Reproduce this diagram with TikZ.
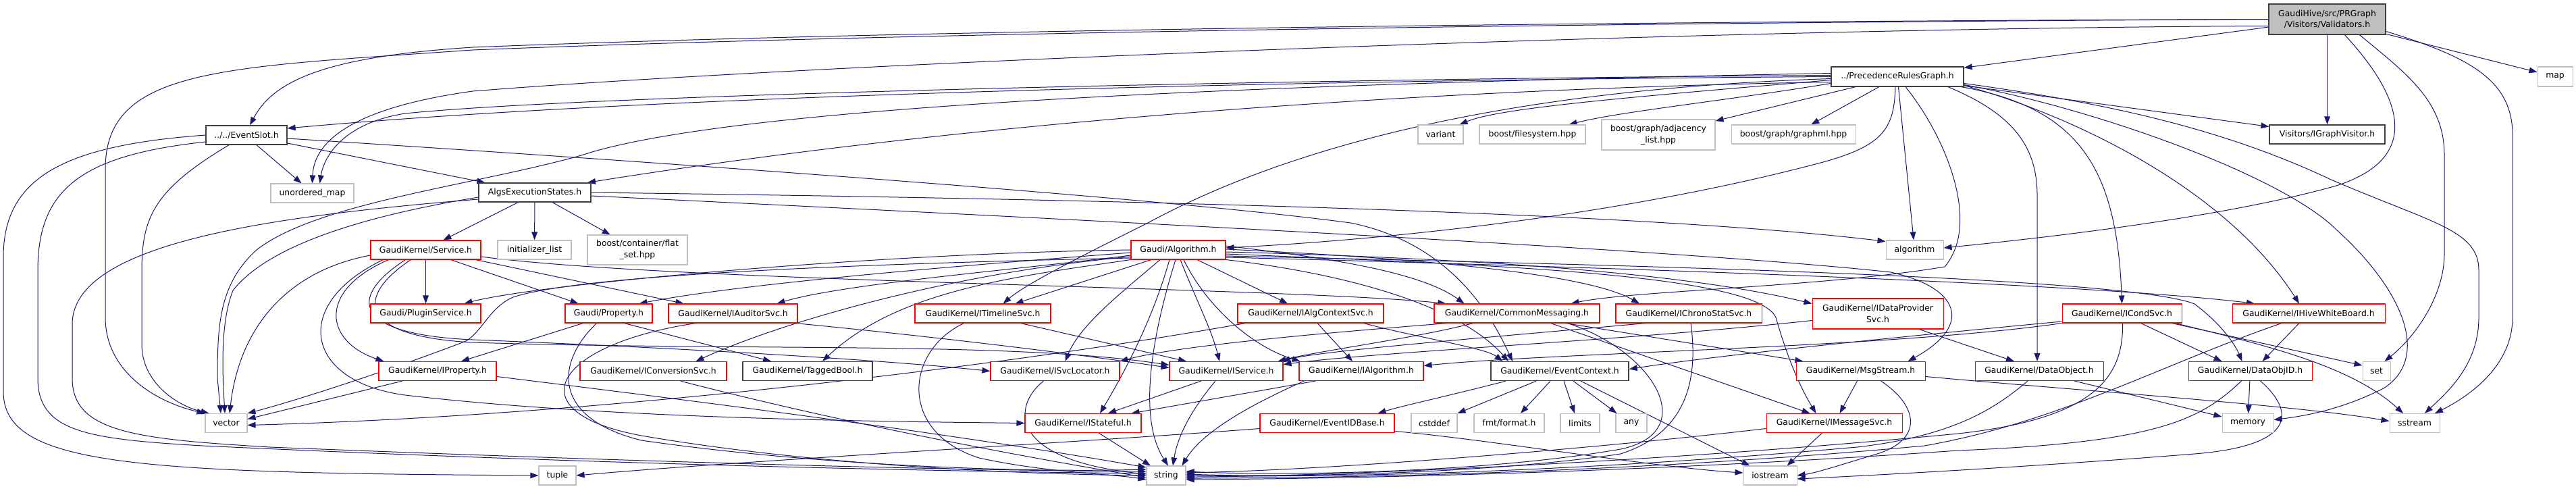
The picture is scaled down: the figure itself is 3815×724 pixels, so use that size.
\documentclass[tikz,border=0pt]{standalone}
\usepackage{fontspec}
\setmainfont{DejaVu Sans}
\usetikzlibrary{arrows.meta,calc}
\definecolor{edgeblue}{HTML}{191970}
\definecolor{boxgray}{HTML}{BFBFBF}
\definecolor{boxdark}{HTML}{404040}
\pgfdeclarelayer{bgfill}
\pgfdeclarelayer{edges}
\pgfsetlayers{bgfill,edges,main}
\tikzset{
  nbase/.style={draw, fill=white, line width=0.8pt, inner sep=0pt, align=center, font=\fontsize{9.3}{12.5}\selectfont, text=black},
  rd/.style={nbase, draw=red},
  bk/.style={nbase, draw=boxdark, line width=1pt},
  gy/.style={nbase, draw=boxgray},
  topn/.style={nbase, draw=boxdark, fill=boxgray, line width=1pt},
  e/.style={draw=edgeblue, line width=0.75pt, -{Triangle[length=9pt,width=6.5pt]}},
}
\newcommand{\mknode}[7]{\node[#6, minimum width=#4*0.75pt, minimum height=#5*0.75pt] (#1) at (#2,#3) {#7};}
\begin{document}
\begin{tikzpicture}[x=0.75pt,y=-0.75pt]
\begin{pgfonlayer}{bgfill}
\fill[white] (0,0) rectangle (3815,724);
\end{pgfonlayer}
\useasboundingbox (0,0) rectangle (3815,724);
% ---------------- nodes ----------------
\mknode{V}{3446.5}{28.5}{173}{45}{topn}{GaudiHive/src/PRGraph\\/Visitors/Validators.h}
\mknode{P}{2810}{113.5}{196}{29}{bk}{../PrecedenceRulesGraph.h}
\mknode{map}{3784}{113.5}{52}{29}{gy}{map}
\mknode{ES}{365}{200}{120}{28}{bk}{../../EventSlot.h}
\mknode{variant}{2133.5}{199}{67}{28}{gy}{variant}
\mknode{fs}{2269.5}{199}{157}{28}{gy}{boost/filesystem.hpp}
\mknode{adj}{2456}{199.5}{168}{45}{gy}{boost/graph/adjacency\\\_list.hpp}
\mknode{gml}{2656}{199}{184}{28}{gy}{boost/graph/graphml.hpp}
\mknode{IGV}{3446.5}{199}{171}{28}{bk}{Visitors/IGraphVisitor.h}
\mknode{AES}{792}{285}{166}{28}{bk}{AlgsExecutionStates.h}
\mknode{umap}{462.5}{286}{123}{28}{gy}{unordered\_map}
\mknode{Svc}{630.5}{370}{163}{28}{rd}{GaudiKernel/Service.h}
\mknode{ilist}{791.5}{370}{109}{28}{gy}{initializer\_list}
\mknode{fset}{944}{370}{148}{44}{gy}{boost/container/flat\\\_set.hpp}
\mknode{Algo}{1745}{370}{140}{28}{rd}{Gaudi/Algorithm.h}
\mknode{algorithm}{2835.5}{370}{85}{28}{gy}{algorithm}
\mknode{Plugin}{630.5}{464}{163}{28}{rd}{Gaudi/PluginService.h}
\mknode{Prop}{901.5}{464}{129}{28}{rd}{Gaudi/Property.h}
\mknode{IAud}{1085.5}{464}{191}{28}{rd}{GaudiKernel/IAuditorSvc.h}
\mknode{ITL}{1455.5}{464}{201}{28}{rd}{GaudiKernel/ITimelineSvc.h}
\mknode{IACS}{1941}{464}{216}{28}{rd}{GaudiKernel/IAlgContextSvc.h}
\mknode{CM}{2246.5}{464}{245}{28}{rd}{GaudiKernel/CommonMessaging.h}
\mknode{ICSS}{2501}{464}{216}{28}{rd}{GaudiKernel/IChronoStatSvc.h}
\mknode{IDPS}{2781}{464.5}{194}{45}{rd}{GaudiKernel/IDataProvider\\Svc.h}
\mknode{ICond}{3142.5}{464}{177}{28}{rd}{GaudiKernel/ICondSvc.h}
\mknode{IHWB}{3419}{464}{226}{28}{rd}{GaudiKernel/IHiveWhiteBoard.h}
\mknode{IProp}{648}{549.5}{174}{28}{rd}{GaudiKernel/IProperty.h}
\mknode{IConv}{967.5}{549.5}{217}{28}{rd}{GaudiKernel/IConversionSvc.h}
\mknode{TB}{1196}{549.5}{192}{28}{bk}{GaudiKernel/TaggedBool.h}
\mknode{ISL}{1562.5}{549.5}{191}{28}{rd}{GaudiKernel/ISvcLocator.h}
\mknode{ISvc}{1816}{549.5}{168}{28}{rd}{GaudiKernel/IService.h}
\mknode{IAlg}{2016}{549.5}{184}{28}{rd}{GaudiKernel/IAlgorithm.h}
\mknode{EC}{2310}{549.5}{204}{28}{bk}{GaudiKernel/EventContext.h}
\mknode{MS}{2755.5}{549.5}{191}{28}{rd}{GaudiKernel/MsgStream.h}
\mknode{DO}{3020}{549.5}{190}{28}{rd}{GaudiKernel/DataObject.h}
\mknode{DOID}{3332.5}{549.5}{183}{28}{rd}{GaudiKernel/DataObjID.h}
\mknode{set}{3519.5}{549.5}{41}{28}{gy}{set}
\mknode{vec}{335}{626.5}{62}{28}{gy}{vector}
\mknode{IStf}{1604}{626.5}{172}{28}{rd}{GaudiKernel/IStateful.h}
\mknode{EIB}{1965.5}{626.5}{199}{28}{rd}{GaudiKernel/EventIDBase.h}
\mknode{cstddef}{2124}{626.5}{68}{28}{gy}{cstddef}
\mknode{fmt}{2235}{626.5}{104}{28}{gy}{fmt/format.h}
\mknode{limits}{2340}{626.5}{58}{28}{gy}{limits}
\mknode{any}{2416}{626.5}{46}{28}{gy}{any}
\mknode{IMS}{2716.5}{626.5}{201}{28}{rd}{GaudiKernel/IMessageSvc.h}
\mknode{memory}{3329}{626.5}{76}{28}{gy}{memory}
\mknode{sstream}{3576}{626.5}{74}{28}{gy}{sstream}
\mknode{tuple}{825.5}{704}{55}{28}{gy}{tuple}
\mknode{string}{1727}{704}{58}{28}{gy}{string}
\mknode{iostream}{2621.5}{704}{79}{28}{gy}{iostream}
% ---------------- edges ----------------
\begin{pgfonlayer}{edges}
% Validators
\draw[e] (V) -- (P);
\draw[e] (V.west) .. controls (2300,32) and (1300,46) .. (700,70) .. controls (480,84) and (405,120) .. ($(ES.north)+(5,0)$);
\draw[e] (V.west) .. controls (2300,34) and (1300,50) .. (700,74) .. controls (330,100) and (156,100) .. (156,250) -- (156,470) .. controls (156,550) and (230,595) .. (vec.north west);
\draw[e] ($(V.west)+(0,10)$) .. controls (2500,42) and (1200,95) .. (700,135) .. controls (520,160) and (465,210) .. (umap.north);
\draw[e] (V) -- (IGV);
\draw[e] (V) -- (map);
\draw[e] ($(V.south)+(48,0)$) .. controls (3565,110) and (3620,150) .. (3620,230) -- (3620,375) .. controls (3620,440) and (3575,500) .. ($(set.north)+(12,0)$);
\draw[e] ($(V.east)+(0,18)$) .. controls (3660,85) and (3721,120) .. (3721,200) -- (3721,470) .. controls (3721,540) and (3660,585) .. ($(sstream.north)+(30,0)$);
\draw[e] ($(V.south)+(26,0)$) .. controls (3545,130) and (3600,230) .. (3460,275) .. controls (3300,320) and (3050,350) .. ($(algorithm.east)+(0,-3)$);
% PrecedenceRulesGraph
\draw[e] ($(P.west)+(0,5)$) .. controls (2400,145) and (2220,160) .. ($(variant.north)+(28,0)$);
\draw[e] ($(P.west)+(0,10)$) .. controls (2550,150) and (2400,165) .. ($(fs.north)+(54,0)$);
\draw[e] (P) -- (adj);
\draw[e] (P) -- (gml);
\draw[e] (P) -- (IGV);
\draw[e] (P) -- (algorithm);
\draw[e] ($(P.east)+(0,10)$) .. controls (3100,150) and (3280,185) .. (3450,265) .. controls (3600,330) and (3671,340) .. (3671,400) -- (3671,470) .. controls (3671,540) and (3625,580) .. ($(sstream.north)+(15,0)$);
\draw[e] ($(P.east)+(0,12)$) .. controls (3100,160) and (3380,260) .. (3460,340) .. controls (3560,430) and (3600,530) .. (3530,575) .. controls (3470,605) and (3420,615) .. ($(memory.east)+(0,-5)$);
\draw[e] ($(P.east)+(0,13)$) .. controls (3050,165) and (3290,270) .. ($(IHWB.north)+(-14,0)$);
\draw[e] ($(P.south)+(95,0)$) .. controls (3080,160) and (3135,250) .. (ICond.north);
\draw[e] ($(P.south)+(75,0)$) .. controls (2985,170) and (3017,220) .. (3017,290) -- ($(DO.north)+(-3,0)$);
\draw[e] ($(P.south)+(-3,0)$) .. controls (2805,190) and (2790,215) .. (2700,240) .. controls (2400,320) and (2050,355) .. ($(Algo.east)+(0,-3)$);
\draw[e] ($(P.west)+(0,3)$) .. controls (2300,130) and (1950,195) .. (1700,330) .. controls (1600,380) and (1520,420) .. ($(ITL.north)+(30,0)$);
\draw[e] ($(P.west)+(0,8)$) .. controls (2200,130) and (1500,170) .. ($(AES.north)+(78,0)$);
\draw[e] (P.west) .. controls (2000,118) and (1000,138) .. ($(ES.east)+(0,-10)$);
\draw[e] ($(P.west)+(0,-2)$) .. controls (2000,116) and (900,138) .. (600,168) .. controls (510,182) and (480,230) .. ($(umap.north)+(11,0)$);
\draw[e] ($(P.west)+(0,-5)$) .. controls (2000,122) and (1100,150) .. (861,230) .. controls (700,275) and (470,300) .. (380,370) .. controls (325,420) and (322,480) .. (322,560) -- ($(vec.north)+(-8,0)$);
\draw[e] ($(P.south)+(12,0)$) .. controls (2880,200) and (2935,330) .. (2880,395) .. controls (2700,425) and (2420,430) .. ($(CM.north)+(80,0)$);
% EventSlot
\draw[e] ($(ES.east)+(0,12)$) -- ($(AES.north west)+(10,0)$);
\draw[e] ($(ES.south)+(15,0)$) -- ($(umap.north)+(-16,0)$);
\draw[e] ($(ES.south)+(-26,0)$) .. controls (230,280) and (210,320) .. (210,400) -- (210,510) .. controls (210,565) and (260,600) .. ($(vec.north west)+(6,0)$);
\draw[e] ($(ES.west)+(0,10)$) .. controls (120,230) and (56,280) .. (56,400) -- (56,560) .. controls (56,640) and (130,650) .. (300,660) .. controls (900,688) and (1400,698) .. ($(string.west)+(0,-3)$);
\draw[e] (ES.west) .. controls (100,215) and (5,260) .. (5,380) -- (5,580) .. controls (5,690) and (200,700) .. (tuple.west);
\draw[e] ($(ES.east)+(0,5)$) .. controls (900,235) and (1700,290) .. (2000,330) .. controls (2150,360) and (2210,470) .. ($(EC.north)+(-70,0)$);
% AlgsExecutionStates
\draw[e] ($(AES.south)+(-25,0)$) -- ($(Svc.north)+(26,0)$);
\draw[e] (AES) -- (ilist);
\draw[e] (AES) -- (fset);
\draw[e] ($(AES.west)+(0,7)$) .. controls (550,318) and (400,360) .. (345,430) .. controls (325,480) and (330,560) .. ($(vec.north)+(-2,0)$);
\draw[e] ($(AES.west)+(0,10)$) .. controls (400,320) and (107,360) .. (107,480) -- (107,560) .. controls (107,640) and (200,650) .. (400,662) .. controls (1000,686) and (1450,697) .. ($(string.west)+(0,-6)$);
\draw[e] (AES.east) .. controls (1500,293) and (2400,310) .. ($(algorithm.north west)+(0,2)$);
\draw[e] ($(AES.east)+(0,5)$) .. controls (1600,325) and (2500,370) .. (2800,403) .. controls (2900,425) and (2925,480) .. ($(MS.north)+(70,0)$);
% Service
\draw[e] (Svc) -- (Plugin);
\draw[e] ($(Svc.south)+(37,0)$) -- ($(Prop.north)+(-45,0)$);
\draw[e] ($(Svc.south east)+(-8,0)$) -- ($(IAud.north)+(-73,0)$);
\draw[e] ($(Svc.south)+(-55,0)$) .. controls (470,430) and (480,505) .. ($(IProp.north west)+(8,0)$);
\draw[e] ($(Svc.west)+(0,8)$) .. controls (430,400) and (355,480) .. ($(vec.north)+(5,0)$);
\draw[e] ($(Svc.south)+(-63,0)$) .. controls (430,450) and (450,565) .. (600,585) .. controls (900,620) and (1300,624) .. (IStf.west);
\draw[e] ($(Svc.south)+(-30,0)$) .. controls (515,440) and (520,495) .. (700,503) .. controls (1000,515) and (1300,532) .. (ISL.west);
\draw[e] ($(Svc.south)+(-22,0)$) .. controls (525,440) and (530,498) .. (700,507) .. controls (1100,520) and (1500,505) .. ($(ISvc.west)+(0,-9)$);
\draw[e] ($(Svc.east)+(0,10)$) .. controls (1000,418) and (1900,425) .. ($(CM.north)+(-105,0)$);
% Gaudi/Algorithm.h
\draw[e] ($(Algo.south)+(-40,0)$) -- ($(ITL.north)+(48,0)$);
\draw[e] ($(Algo.south)+(-27,0)$) .. controls (1665,430) and (1600,480) .. ($(ISL.north)+(15,0)$);
\draw[e] ($(Algo.south)+(-13,0)$) .. controls (1705,480) and (1660,560) .. ($(IStf.north)+(25,0)$);
\draw[e] ($(Algo.south)+(-4,0)$) .. controls (1705,500) and (1685,620) .. ($(string.north)+(3,0)$);
\draw[e] ($(Algo.south)+(3,0)$) .. controls (1770,440) and (1795,490) .. ($(ISvc.north)+(-10,0)$);
\draw[e] ($(Algo.south)+(8,0)$) .. controls (1790,460) and (1860,515) .. ($(IAlg.north west)+(2,0)$);
\draw[e] ($(Algo.south)+(28,0)$) -- ($(IACS.north)+(-34,0)$);
\draw[e] (Algo.west) .. controls (1300,375) and (800,420) .. ($(Plugin.north east)+(-25,0)$);
\draw[e] ($(Algo.west)+(0,4)$) .. controls (1400,395) and (1100,420) .. ($(Prop.north)+(45,0)$);
\draw[e] ($(Algo.west)+(0,8)$) .. controls (1500,400) and (1250,420) .. ($(IAud.north)+(65,0)$);
\draw[e] ($(Algo.west)+(0,10)$) .. controls (1400,405) and (1150,480) .. ($(IConv.north)+(63,0)$);
\draw[e] (Algo.south west) .. controls (1500,410) and (1330,430) .. ($(TB.north)+(22,0)$);
\draw[e] ($(Algo.west)+(0,12)$) .. controls (1200,392) and (850,410) .. (760,440) .. controls (725,455) and (715,490) .. (690,505) .. controls (600,540) and (450,590) .. (vec.north east);
\draw[e] ($(Algo.east)+(0,-6)$) .. controls (1950,380) and (2100,400) .. ($(CM.north)+(-78,0)$);
\draw[e] ($(Algo.east)+(0,-1)$) .. controls (2100,382) and (2350,405) .. ($(ICSS.north)+(-73,0)$);
\draw[e] ($(Algo.east)+(0,3)$) .. controls (2200,383) and (2500,405) .. ($(IDPS.west)+(0,-15)$);
\draw[e] (Algo.south east) .. controls (1950,400) and (2150,440) .. ($(EC.north)+(-76,0)$);
\draw[e] ($(Algo.east)+(0,6)$) .. controls (2200,392) and (2600,405) .. (2630,470) .. controls (2650,540) and (2670,580) .. ($(IMS.north)+(-27,0)$);
\draw[e] ($(Algo.east)+(0,9)$) .. controls (2400,392) and (3150,410) .. (3250,450) .. controls (3290,480) and (3310,510) .. ($(DOID.north)+(-12,0)$);
\draw[e] ($(Algo.east)+(0,11)$) .. controls (2400,396) and (3100,420) .. ($(IHWB.north)+(-80,0)$);
% Property
\draw[e] ($(Prop.south)+(-38,0)$) -- ($(IProp.north)+(35,0)$);
\draw[e] ($(Prop.south)+(23,0)$) -- ($(TB.north)+(-54,0)$);
\draw[e] ($(Prop.south)+(-18,0)$) .. controls (820,540) and (820,620) .. (950,652) .. controls (1200,688) and (1500,700) .. ($(string.west)+(0,-9)$);
% IAuditorSvc
\draw[e] ($(IAud.south east)+(-4,0)$) .. controls (1400,500) and (1600,525) .. ($(ISvc.west)+(0,-5)$);
\draw[e] ($(IAud.south)+(-55,0)$) .. controls (820,510) and (760,610) .. (950,645) .. controls (1200,688) and (1500,702) .. (string.west);
% IConversionSvc, ITimelineSvc, ISvcLocator
\draw[e] ($(IConv.south)+(40,0)$) .. controls (1300,640) and (1600,690) .. ($(string.west)+(0,3)$);
\draw[e] ($(ITL.south)+(56,0)$) -- ($(ISvc.north)+(-59,0)$);
\draw[e] ($(ITL.south)+(-28,0)$) .. controls (1340,520) and (1330,640) .. (1450,678) .. controls (1550,700) and (1650,702) .. ($(string.west)+(0,6)$);
\draw[e] ($(ISL.south)+(-17,0)$) .. controls (1500,600) and (1490,680) .. ($(string.west)+(0,-2)$);
% IService, IAlgorithm, IStateful
\draw[e] ($(ISvc.south)+(-37,0)$) -- ($(IStf.north)+(37,0)$);
\draw[e] ($(ISvc.south)+(-16,0)$) .. controls (1770,600) and (1745,640) .. ($(string.north)+(10,0)$);
\draw[e] ($(IAlg.south west)+(25,0)$) -- ($(IStf.north east)+(-15,0)$);
\draw[e] ($(IAlg.south west)+(8,0)$) .. controls (1850,600) and (1780,640) .. ($(string.north east)+(-6,0)$);
\draw[e] (IStf) -- (string);
% IAlgContextSvc
\draw[e] ($(IACS.south)+(10,0)$) -- ($(IAlg.north)+(-13,0)$);
\draw[e] ($(IACS.south east)+(-30,0)$) .. controls (2100,500) and (2200,515) .. ($(EC.north west)+(18,0)$);
\draw[e] ($(IACS.south west)+(12,0)$) .. controls (1500,540) and (900,615) .. ($(vec.east)+(0,3)$);
% CommonMessaging
\draw[e] ($(CM.south)+(72,0)$) -- ($(MS.north)+(-85,0)$);
\draw[e] ($(CM.south)+(50,0)$) -- ($(IMS.north)+(-36,0)$);
\draw[e] ($(CM.south)+(75,0)$) .. controls (2450,520) and (2520,640) .. (2400,665) .. controls (2200,700) and (1900,705) .. ($(string.east)+(0,-6)$);
\draw[e] ($(CM.south)+(-65,0)$) .. controls (2100,500) and (1950,520) .. ($(ISvc.north east)+(-8,0)$);
\draw[e] ($(CM.south west)+(20,0)$) .. controls (2000,490) and (1750,510) .. (ISL.north east);
% IChronoStatSvc
\draw[e] ($(ICSS.south)+(-64,0)$) .. controls (2200,500) and (1950,520) .. ($(ISvc.north east)+(-2,0)$);
\draw[e] ($(ICSS.south)+(3,0)$) .. controls (2515,560) and (2500,640) .. (2400,672) .. controls (2200,702) and (1900,707) .. ($(string.east)+(0,-2)$);
% IDataProviderSvc
\draw[e] ($(IDPS.south)+(61,0)$) -- ($(DO.north)+(-37,0)$);
\draw[e] ($(IDPS.west)+(0,10)$) .. controls (2400,505) and (2050,520) .. ($(ISvc.east)+(0,-10)$);
% ICondSvc
\draw[e] ($(ICond.west)+(0,12)$) .. controls (2850,495) and (2550,525) .. ($(EC.east)+(0,-3)$);
\draw[e] (ICond.south west) .. controls (2800,515) and (2300,522) .. ($(IAlg.east)+(0,-8)$);
\draw[e] ($(ICond.south)+(1,0)$) .. controls (3145,560) and (3100,620) .. (2900,642) .. controls (2400,690) and (1900,706) .. ($(string.east)+(0,2)$);
\draw[e] ($(ICond.south)+(28,0)$) -- ($(DOID.north)+(-42,0)$);
\draw[e] ($(ICond.south east)+(-15,0)$) -- ($(set.north west)+(0,6)$);
\draw[e] ($(ICond.south east)+(-10,0)$) .. controls (3350,510) and (3480,540) .. ($(sstream.north)+(-17,0)$);
% IHiveWhiteBoard
\draw[e] ($(IHWB.south)+(-14,0)$) -- ($(DOID.north)+(18,0)$);
\draw[e] ($(IHWB.south)+(-40,0)$) .. controls (3200,540) and (3050,625) .. (2850,660) .. controls (2400,702) and (1950,708) .. ($(string.east)+(0,4)$);
% EventContext
\draw[e] ($(EC.south)+(-80,0)$) .. controls (2150,585) and (2080,600) .. ($(EIB.north east)+(-25,0)$);
\draw[e] ($(EC.south)+(-35,0)$) -- (cstddef.north east);
\draw[e] ($(EC.south)+(-14,0)$) -- ($(fmt.north)+(17,0)$);
\draw[e] ($(EC.south)+(6,0)$) -- ($(limits.north)+(-8,0)$);
\draw[e] ($(EC.south)+(20,0)$) -- ($(any.north west)+(2,0)$);
\draw[e] ($(EC.south)+(31,0)$) -- ($(iostream.north)+(-30,0)$);
% EventIDBase
\draw[e] ($(EIB.west)+(0,8)$) .. controls (1600,655) and (1100,682) .. (tuple.east);
\draw[e] ($(EIB.east)+(0,12)$) .. controls (2200,650) and (2450,692) .. ($(iostream.west)+(0,-4)$);
% MsgStream
\draw[e] ($(MS.south)+(-5,0)$) -- ($(IMS.north)+(8,0)$);
\draw[e] ($(MS.east)+(0,8)$) .. controls (3100,580) and (3400,600) .. ($(sstream.west)+(0,-3)$);
\draw[e] ($(MS.south)+(30,0)$) .. controls (2840,600) and (2850,650) .. (2780,672) .. controls (2720,690) and (2690,700) .. (iostream.east);
% IMessageSvc
\draw[e] ($(IMS.south)+(-18,0)$) -- ($(iostream.north)+(25,0)$);
\draw[e] ($(IMS.west)+(0,8)$) .. controls (2400,660) and (2000,695) .. ($(string.east)+(0,-4)$);
% DataObject
\draw[e] ($(DO.south)+(52,0)$) -- ($(memory.north west)+(0,5)$);
\draw[e] ($(DO.south)+(-17,0)$) .. controls (2960,600) and (2900,645) .. (2750,662) .. controls (2300,702) and (1950,707) .. (string.east);
% DataObjID
\draw[e] (DOID) -- (memory);
\draw[e] ($(DOID.south)+(-13,0)$) .. controls (3260,620) and (3200,655) .. (2900,667) .. controls (2400,702) and (1950,709) .. ($(string.east)+(0,6)$);
\draw[e] ($(DOID.south)+(15,0)$) .. controls (3400,610) and (3400,660) .. (3250,672) .. controls (3000,692) and (2750,705) .. ($(iostream.east)+(0,5)$);
% IProperty
\draw[e] ($(IProp.south)+(-52,0)$) -- ($(vec.east)+(0,-6)$);
\draw[e] ($(IProp.east)+(0,8)$) .. controls (1000,590) and (1400,640) .. ($(string.west)+(0,-12)$);
\end{pgfonlayer}
\end{tikzpicture}
\end{document}
